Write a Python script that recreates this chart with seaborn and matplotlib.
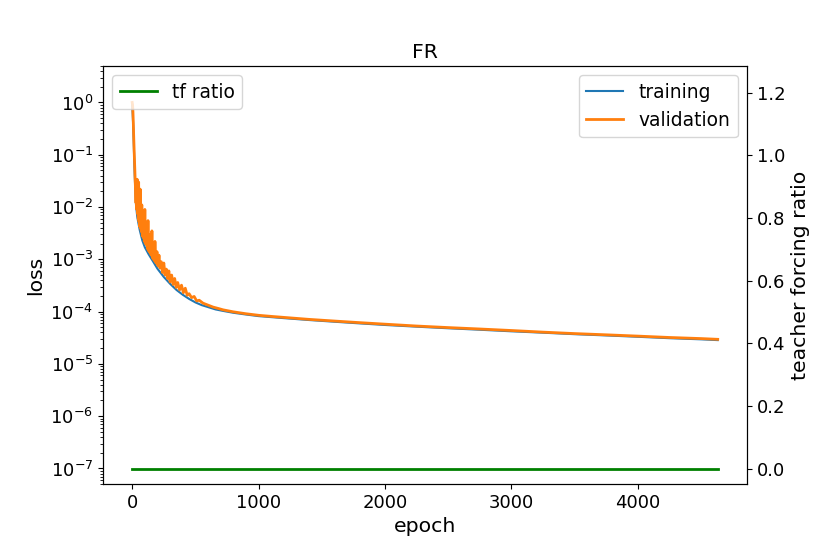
import matplotlib
matplotlib.use("Agg")
import matplotlib.pyplot as plt
import numpy as np
import seaborn as sns

# training loss
train_epoch = [0, 4, 8, 12, 16, 20, 25, 30, 40, 50, 60, 80, 100, 130, 164, 200,
               250, 300, 350, 400, 450, 500, 550, 600, 660, 720, 800, 900, 1000,
               1200, 1400, 1600, 1800, 2000, 2250, 2500, 2750, 3000, 3250, 3500,
               3750, 4000, 4250, 4500, 4632]
train_loss = [9.0e-1, 6.0e-1, 3.5e-1, 1.8e-1, 8.0e-2, 4.0e-2, 2.0e-2, 1.1e-2,
              6.5e-3, 4.8e-3, 3.6e-3, 2.3e-3, 1.7e-3, 1.25e-3, 9.2e-4, 6.6e-4,
              4.6e-4, 3.4e-4, 2.6e-4, 2.1e-4, 1.75e-4, 1.5e-4, 1.33e-4, 1.22e-4,
              1.1e-4, 1.03e-4, 9.5e-5, 8.8e-5, 8.2e-5, 7.5e-5, 6.9e-5, 6.4e-5,
              5.95e-5, 5.55e-5, 5.15e-5, 4.8e-5, 4.5e-5, 4.2e-5, 3.95e-5, 3.7e-5,
              3.5e-5, 3.3e-5, 3.1e-5, 2.95e-5, 2.85e-5]

# validation loss, noisy at the start
val_epoch = [0, 3, 6, 9, 12, 15, 18, 21, 24, 27, 30, 33, 36, 39, 42, 45, 48, 51,
             54, 57, 60, 63, 66, 69, 72, 76, 80, 84, 88, 92, 96, 100, 104, 108,
             112, 116, 120, 125, 130, 135, 140, 145, 150, 156, 162, 168, 174, 180,
             188, 196, 204, 212, 220, 230, 240, 250, 260, 270, 280, 290, 300, 312,
             324, 336, 348, 360, 375, 390, 405, 420, 435, 450, 470, 490, 510, 530,
             560, 600, 640, 680, 720, 800, 900, 1000, 1100, 1200, 1400, 1600, 1800,
             2000, 2250, 2500, 2750, 3000, 3250, 3500, 3750, 4000, 4250, 4500, 4632]
val_loss = [1.0e0, 9.0e-1, 6.5e-1, 4.0e-1, 2.2e-1, 1.3e-1, 8.0e-2, 5.0e-2,
            3.0e-2, 2.0e-2, 1.2e-2, 2.5e-2, 9.0e-3, 3.4e-2, 7.5e-3, 1.6e-2,
            6.0e-3, 3.0e-2, 5.2e-3, 1.2e-2, 4.2e-3, 2.2e-2, 3.9e-3, 8.0e-3,
            3.4e-3, 1.1e-2, 2.8e-3, 6.0e-3, 2.6e-3, 5.0e-3, 2.2e-3, 9.0e-3,
            2.0e-3, 4.0e-3, 1.9e-3, 3.2e-3, 1.6e-3, 5.5e-3, 1.45e-3, 3.0e-3,
            1.35e-3, 2.4e-3, 1.2e-3, 3.5e-3, 1.05e-3, 1.9e-3, 9.5e-4, 2.2e-3,
            8.5e-4, 1.4e-3, 7.5e-4, 1.2e-3, 6.8e-4, 9.0e-4, 5.6e-4, 8.5e-4,
            5.0e-4, 6.5e-4, 4.3e-4, 6.0e-4, 3.7e-4, 5.0e-4, 3.3e-4, 4.3e-4,
            2.9e-4, 3.6e-4, 2.6e-4, 3.2e-4, 2.3e-4, 2.8e-4, 2.05e-4, 2.2e-4,
            1.85e-4, 1.95e-4, 1.6e-4, 1.65e-4, 1.45e-4, 1.33e-4, 1.22e-4,
            1.15e-4, 1.08e-4, 9.9e-5, 9.1e-5, 8.5e-5, 8.1e-5, 7.75e-5, 7.1e-5,
            6.6e-5, 6.15e-5, 5.75e-5, 5.3e-5, 4.95e-5, 4.65e-5, 4.35e-5,
            4.05e-5, 3.8e-5, 3.6e-5, 3.4e-5, 3.2e-5, 3.05e-5, 2.95e-5]

# teacher forcing ratio
tf_epoch = [0, 4632]
tf_ratio = [0.0, 0.0]

plt.rcParams["font.size"] = 13
plt.rcParams["xtick.labelsize"] = 13
plt.rcParams["ytick.labelsize"] = 13
plt.rcParams["axes.labelsize"] = 14.7
plt.rcParams["axes.titlesize"] = 14.7
plt.rcParams["legend.fontsize"] = 13.4

fig, ax = plt.subplots(figsize=(8.3, 5.54), dpi=100)
fig.subplots_adjust(left=0.124, right=0.9, top=0.881, bottom=0.126)

sns.lineplot(x=train_epoch, y=train_loss, ax=ax, color="#1f77b4",
             label="training", estimator=None, linewidth=1.5)
sns.lineplot(x=val_epoch, y=val_loss, ax=ax, color="#ff7f0e",
             label="validation", estimator=None, linewidth=2)
ax.set_yscale("log")
ax.set_ylim(5e-8, 5)
ax.set_xlabel("epoch")
ax.set_ylabel("loss")
ax.set_title("FR")
ax.legend(loc="upper right")

ax2 = ax.twinx()
sns.lineplot(x=tf_epoch, y=tf_ratio, ax=ax2, color="green",
             label="tf ratio", estimator=None, linewidth=2)
ax2.set_ylim(-0.05, 1.285)
ax2.set_ylabel("teacher forcing ratio")
ax2.legend(loc="upper left")

plt.savefig("out.png", dpi=100)
plt.close()
